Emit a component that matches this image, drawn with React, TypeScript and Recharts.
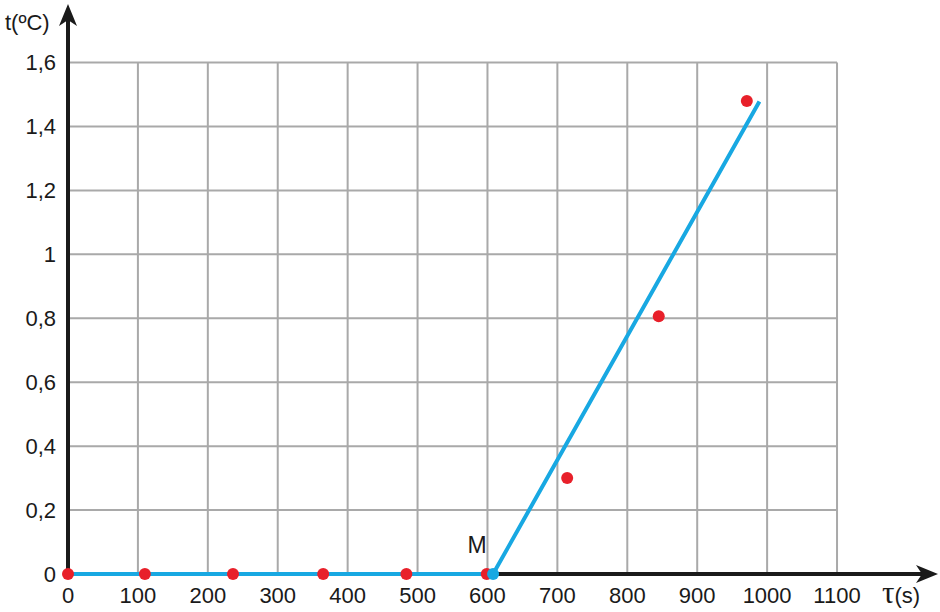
import React from 'react';
import {
  ComposedChart,
  XAxis,
  YAxis,
  Scatter,
  ReferenceLine,
  ReferenceDot,
} from 'recharts';

// ---- data ----
const xTicks = [0, 100, 200, 300, 400, 500, 600, 700, 800, 900, 1000, 1100];
const yTicks = [0, 0.2, 0.4, 0.6, 0.8, 1, 1.2, 1.4, 1.6];
const measuredX = [0, 110, 236, 365, 484, 599, 714, 845, 971];
const measuredY = [0, 0, 0, 0, 0, 0, 0.3, 0.806, 1.48];
const fitX = [0, 608, 989];
const fitY = [0, 0, 1.478];
const pointM = { x: 608, y: 0, label: 'M' };
const xMax = 1243;
const yMax = 1.78;
const gridXMax = 1100;
const gridYMax = 1.6;

const measured = measuredX.map((x, i) => ({ x, y: measuredY[i] }));
const fit = fitX.map((x, i) => ({ x, y: fitY[i] }));

const FONT = '"Liberation Sans", Arial, sans-serif';
const AXIS_COLOR = '#1a1a1a';
const GRID_COLOR = '#a9a9a9';
const BLUE = '#18a8e2';
const RED = '#e8202a';

const ArrowAxis = (props: any) => {
  const { x1, y1, x2, y2 } = props;
  const dx = x2 - x1;
  const dy = y2 - y1;
  const len = Math.sqrt(dx * dx + dy * dy) || 1;
  const ux = dx / len;
  const uy = dy / len;
  const px = -uy;
  const py = ux;
  const L = 22;
  const W = 9;
  const N = 16;
  const tipX = x2 + ux;
  const tipY = y2 + uy;
  const bx = tipX - ux * L;
  const by = tipY - uy * L;
  const nx = tipX - ux * N;
  const ny = tipY - uy * N;
  const pts = [
    [tipX, tipY],
    [bx + px * W, by + py * W],
    [nx, ny],
    [bx - px * W, by - py * W],
  ]
    .map((p) => p.join(','))
    .join(' ');
  return (
    <g>
      <line
        x1={x1 - ux * 2}
        y1={y1 - uy * 2}
        x2={nx}
        y2={ny}
        stroke={AXIS_COLOR}
        strokeWidth={4}
      />
      <polygon points={pts} fill={AXIS_COLOR} />
    </g>
  );
};

const RedDot = (props: any) => (
  <circle cx={props.cx} cy={props.cy} r={6} fill={RED} />
);

const NoShape = () => <g />;

const fmt = (v: number) => String(v).replace('.', ',');

const YLabel = (props: any) => {
  const vb = props.viewBox || { x: 0, y: 0 };
  return (
    <text
      x={vb.x + 5}
      y={vb.y + 25}
      fontFamily={FONT}
      fontSize={22}
      fill={AXIS_COLOR}
    >
      t(ºC)
    </text>
  );
};

const XLabel = (props: any) => {
  const vb = props.viewBox || { x: 0, y: 0, width: 0 };
  return (
    <text
      x={vb.x + vb.width - 55}
      y={vb.y + 29}
      fontFamily={FONT}
      fontSize={22}
      fill={AXIS_COLOR}
    >
      <tspan fontFamily='"Liberation Serif", "DejaVu Serif", serif' fontSize={31}>
        τ
      </tspan>
      <tspan>(s)</tspan>
    </text>
  );
};

const MLabel = (props: any) => {
  const vb = props.viewBox || { x: 0, y: 0, width: 0, height: 0 };
  const cx = vb.x + (vb.width || 0) / 2;
  const cy = vb.y + (vb.height || 0) / 2;
  return (
    <text
      x={cx - 16}
      y={cy - 21}
      textAnchor="middle"
      fontFamily={FONT}
      fontSize={23}
      fill={AXIS_COLOR}
    >
      {pointM.label}
    </text>
  );
};

export default function App() {
  return (
    <div style={{ position: 'absolute', left: 0, top: 0, background: '#fff' }}>
      <ComposedChart
        width={940}
        height={612}
        margin={{ top: 5, right: 3, bottom: 0, left: 0 }}
      >
        <XAxis
          dataKey="x"
          type="number"
          domain={[0, xMax]}
          ticks={xTicks}
          axisLine={false}
          tickLine={false}
          height={38}
          tickMargin={7}
          interval={0}
          tick={{ fontFamily: FONT, fontSize: 22, fill: AXIS_COLOR }}
          label={<XLabel />}
        />
        <YAxis
          dataKey="y"
          type="number"
          domain={[0, yMax]}
          ticks={yTicks}
          axisLine={false}
          tickLine={false}
          width={68}
          tickMargin={6}
          interval={0}
          tickFormatter={fmt}
          tick={{ fontFamily: FONT, fontSize: 22, fill: AXIS_COLOR }}
          label={<YLabel />}
        />
        {xTicks
          .filter((v) => v > 0)
          .map((v) => (
            <ReferenceLine
              key={'gx' + v}
              segment={[
                { x: v, y: 0 },
                { x: v, y: gridYMax },
              ]}
              stroke={GRID_COLOR}
              strokeWidth={2}
              ifOverflow="visible"
            />
          ))}
        {yTicks
          .filter((v) => v > 0)
          .map((v) => (
            <ReferenceLine
              key={'gy' + v}
              segment={[
                { x: 0, y: v },
                { x: gridXMax, y: v },
              ]}
              stroke={GRID_COLOR}
              strokeWidth={2}
              ifOverflow="visible"
            />
          ))}
        <ReferenceLine
          segment={[
            { x: 0, y: 0 },
            { x: xMax, y: 0 },
          ]}
          ifOverflow="visible"
          shape={ArrowAxis}
        />
        <ReferenceLine
          segment={[
            { x: 0, y: 0 },
            { x: 0, y: yMax },
          ]}
          ifOverflow="visible"
          shape={ArrowAxis}
        />
        <Scatter
          data={fit}
          line={{ stroke: BLUE, strokeWidth: 4 }}
          lineType="joint"
          shape={NoShape}
          isAnimationActive={false}
          legendType="none"
        />
        <Scatter
          data={measured}
          shape={RedDot}
          fill={RED}
          isAnimationActive={false}
          legendType="none"
        />
        <ReferenceDot
          x={pointM.x}
          y={pointM.y}
          r={6}
          fill={BLUE}
          stroke="none"
          ifOverflow="visible"
          label={<MLabel />}
        />
      </ComposedChart>
    </div>
  );
}
